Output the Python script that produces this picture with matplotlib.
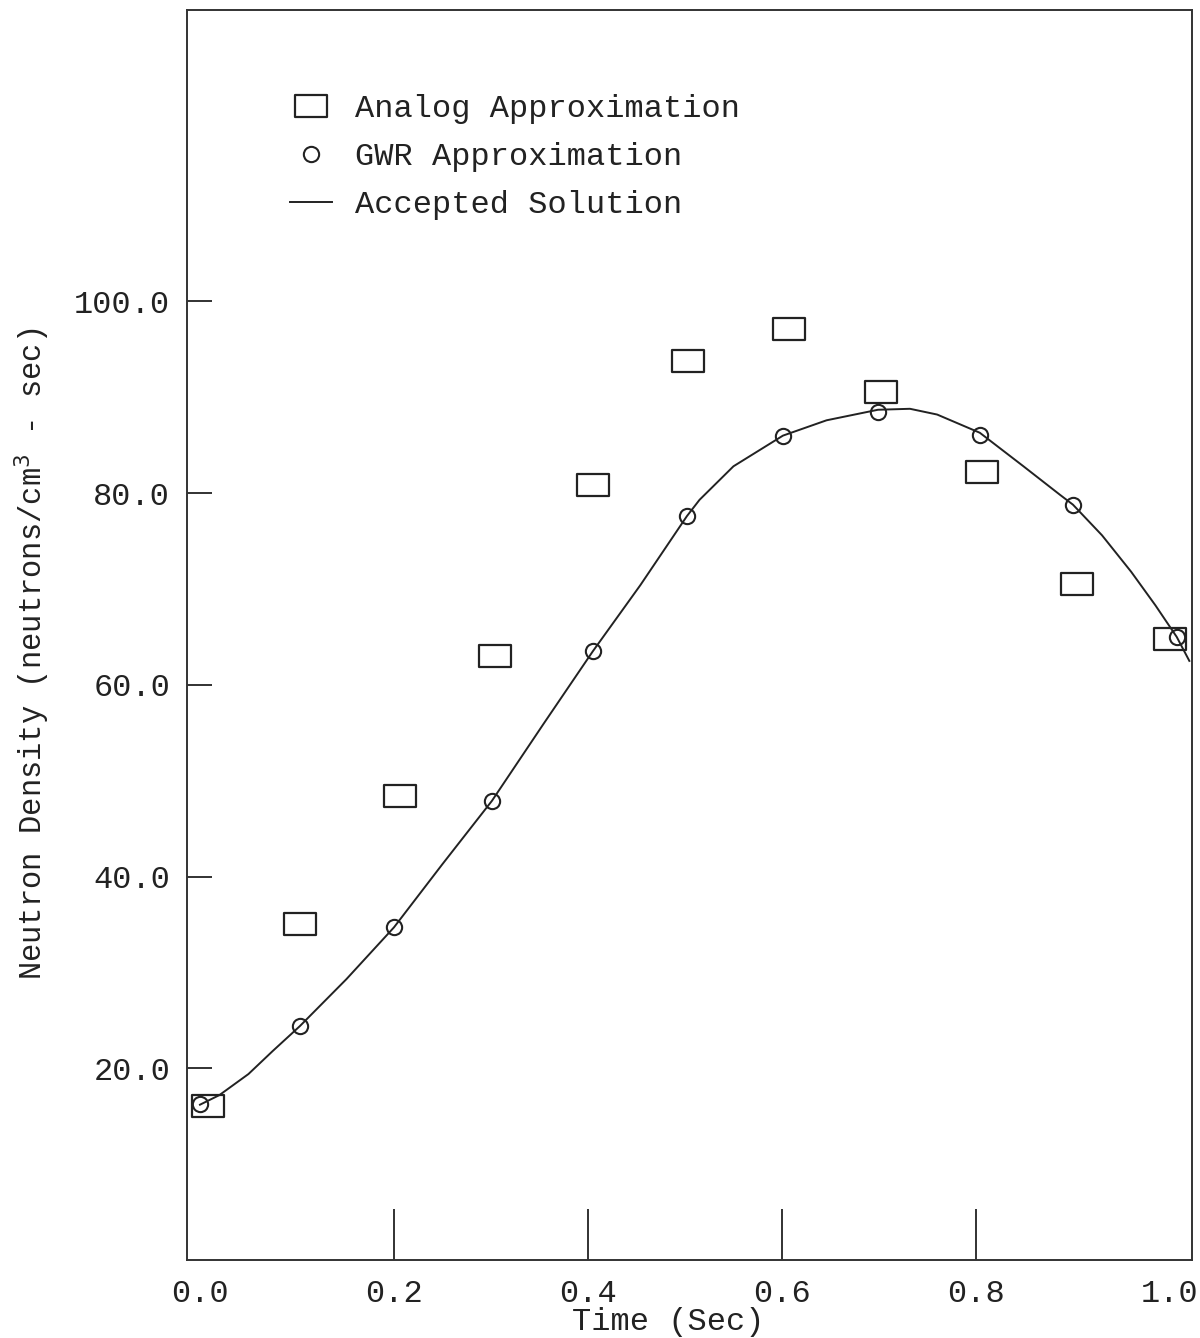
import matplotlib
matplotlib.use('Agg')
import matplotlib.pyplot as plt
from matplotlib.path import Path

# Analog approximation (squares)
analog_t = [0.008, 0.103, 0.206, 0.304, 0.405, 0.503, 0.607, 0.702, 0.806, 0.904, 1.0]
analog_n = [16.1, 35.0, 48.4, 63.0, 80.8, 93.8, 97.1, 90.6, 82.2, 70.5, 64.8]

# GWR approximation (circles)
gwr_t = [0.0, 0.103, 0.2, 0.301, 0.405, 0.502, 0.601, 0.699, 0.804, 0.900, 1.007]
gwr_n = [16.3, 24.4, 34.7, 47.9, 63.5, 77.6, 86.0, 88.5, 86.1, 78.8, 65.0]

# Accepted solution (curve)
sol_t = [0.0, 0.02, 0.05, 0.075, 0.103, 0.151, 0.2, 0.25, 0.301, 0.354, 0.405,
         0.454, 0.502, 0.515, 0.55, 0.601, 0.646, 0.699, 0.732, 0.76, 0.804,
         0.849, 0.887, 0.9, 0.93, 0.96, 0.985, 1.007, 1.02]
sol_n = [16.2, 17.2, 19.4, 21.8, 24.4, 29.3, 34.7, 41.3, 47.9, 55.9, 63.5,
         70.4, 77.6, 79.3, 82.8, 86.0, 87.6, 88.7, 88.8, 88.2, 86.3,
         82.8, 79.8, 78.8, 75.6, 71.8, 68.3, 65.0, 62.5]

x_ticks = [0.0, 0.2, 0.4, 0.6, 0.8, 1.0]
y_ticks = [20, 40, 60, 80, 100]

plt.rcParams['font.family'] = ['Liberation Mono', 'DejaVu Sans Mono']
fs = 23

# rectangular marker, wider than tall
rect = Path([(-1, -0.69), (1, -0.69), (1, 0.69), (-1, 0.69), (-1, -0.69)],
            [Path.MOVETO, Path.LINETO, Path.LINETO, Path.LINETO, Path.CLOSEPOLY])

fig = plt.figure(figsize=(12, 13.38), dpi=100)
ax = fig.add_axes([0.1558, 0.0583, 0.8375, 0.9342])

ax.plot(sol_t, sol_n, color='#222222', linewidth=1.4, label='Accepted Solution', zorder=2)
ax.plot(analog_t, analog_n, linestyle='none', marker=rect, markersize=23,
        markerfacecolor='none', markeredgecolor='#222222', markeredgewidth=1.6,
        label='Analog Approximation', zorder=3)
ax.plot(gwr_t, gwr_n, linestyle='none', marker='o', markersize=11,
        markerfacecolor='none', markeredgecolor='#222222', markeredgewidth=1.5,
        label='GWR Approximation', zorder=4)

ax.set_xlim(-0.0134, 1.0227)
ax.set_ylim(0, 130.4)

ax.set_xticks(x_ticks)
ax.set_xticklabels(['%.1f' % t for t in x_ticks], fontsize=fs)
ax.set_yticks(y_ticks)
ax.set_yticklabels(['%.1f' % v for v in y_ticks], fontsize=fs)
ax.tick_params(axis='x', direction='in', length=37, width=1.3, pad=14, colors='#222222')
ax.tick_params(axis='y', direction='in', length=18, width=1.3, pad=12, colors='#222222')
# no tick marks at the two ends of the time axis
for i in (0, len(x_ticks) - 1):
    ax.xaxis.get_major_ticks()[i].tick1line.set_visible(False)

for sp in ax.spines.values():
    sp.set_linewidth(1.4)
    sp.set_color('#333333')

ax.set_xlabel('Time (Sec)', fontsize=fs, color='#222222')
ax.xaxis.set_label_coords(0.479, -0.038)
ax.set_ylabel('Neutron Density (neutrons/cm$^{3}$ - sec)', fontsize=22, color='#222222')
ax.yaxis.set_label_coords(-0.134, 0.485)

# legend, order as in the original
h, l = ax.get_legend_handles_labels()
order = [1, 2, 0]
leg = ax.legend([h[i] for i in order], [l[i] for i in order], loc='upper left',
                bbox_to_anchor=(0.1025, 0.9328), frameon=False, fontsize=fs,
                handlelength=1.3, handletextpad=0.72, labelspacing=0.56,
                borderpad=0, borderaxespad=0, numpoints=1)
for t in leg.get_texts():
    t.set_color('#222222')

plt.savefig('out.png', dpi=100, facecolor='white')
plt.close()
